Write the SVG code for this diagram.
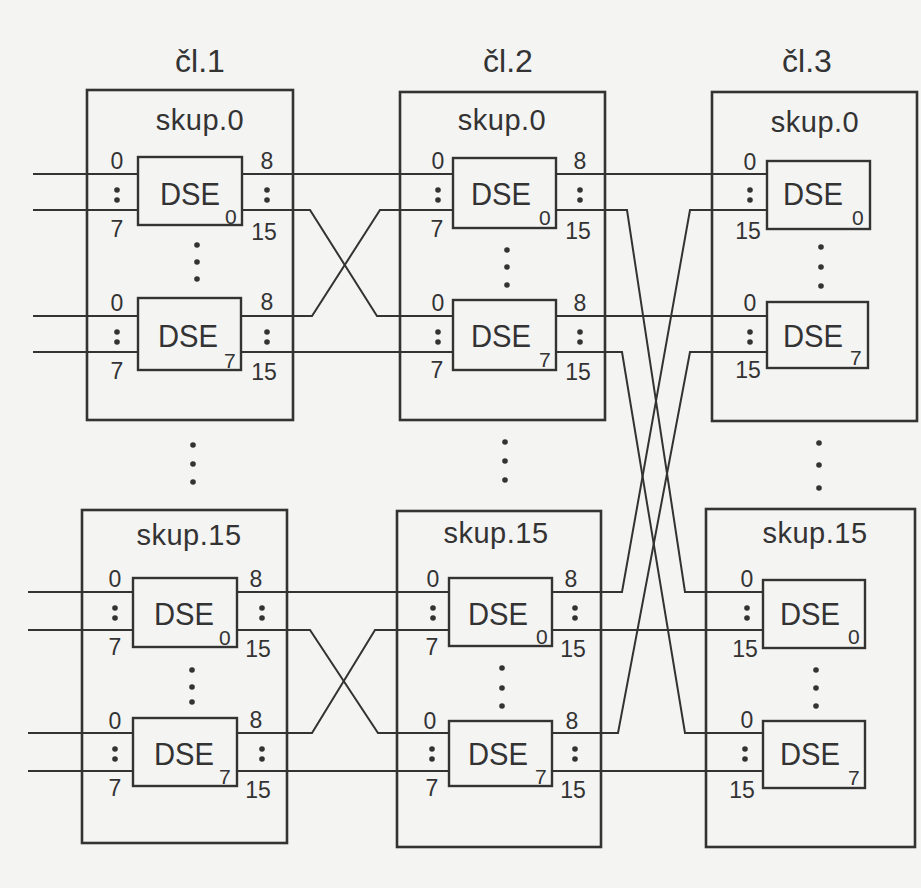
<svg xmlns="http://www.w3.org/2000/svg" width="921" height="888" viewBox="0 0 921 888">
<style>
.bg{fill:#f4f4f3}
.box{fill:none;stroke:#333;stroke-width:2.6}
.dse{fill:none;stroke:#333;stroke-width:2.4}
.ln{fill:none;stroke:#333;stroke-width:2;stroke-linejoin:miter}
text{font-family:"Liberation Sans","DejaVu Sans",sans-serif;fill:#333}
.hd{font-size:32px;text-anchor:middle}
.sk{font-size:29px;text-anchor:middle;letter-spacing:0.5px}
.ds{font-size:32px;text-anchor:middle}
.sub{font-size:21px}
.pt{font-size:23px;text-anchor:middle}
.dot{fill:#333}
</style>
<rect class="bg" x="0" y="0" width="921" height="888"/>
<text class="hd" x="200" y="72">čl.1</text>
<text class="hd" x="508" y="72">čl.2</text>
<text class="hd" x="807" y="72">čl.3</text>

<g id="connectors">
<path class="ln" d="M33 174H138M33 210H138M33 316H138M33 352H138"/>
<path class="ln" d="M28 592H133M28 630H133M28 733H133M28 771H133"/>
<path class="ln" d="M242 174H453"/>
<path class="ln" d="M242 210H310L377 316H453"/>
<path class="ln" d="M241 316H312L380 210H453"/>
<path class="ln" d="M241 352H453"/>
<path class="ln" d="M237 592H449"/>
<path class="ln" d="M237 630H310L378 733H449"/>
<path class="ln" d="M237 733H312L375 630H449"/>
<path class="ln" d="M237 771H449"/>
<path class="ln" d="M556 174H767"/>
<path class="ln" d="M556 210H627L685 592H763"/>
<path class="ln" d="M556 316H767"/>
<path class="ln" d="M556 352H622L685 733H763"/>
<path class="ln" d="M552 592H622L690 210H767"/>
<path class="ln" d="M552 630H763"/>
<path class="ln" d="M552 733H618L690 352H767"/>
<path class="ln" d="M552 771H763"/>
</g>

<g id="c1-skup0">
<rect class="box" x="87" y="90" width="206" height="330"/>
<text class="sk" x="200" y="130">skup.0</text>
<rect class="dse" x="138" y="157" width="104" height="68"/>
<text class="ds" x="190" y="205" textLength="60" lengthAdjust="spacingAndGlyphs">DSE</text><text class="sub" x="225" y="224">0</text>
<rect class="dse" x="138" y="298" width="103" height="72"/>
<text class="ds" x="188" y="347" textLength="60" lengthAdjust="spacingAndGlyphs">DSE</text><text class="sub" x="224" y="368">7</text>
<text class="pt" x="117" y="169">0</text><circle class="dot" cx="117" cy="190" r="2.8"/><circle class="dot" cx="117" cy="200" r="2.8"/><text class="pt" x="117" y="237">7</text>
<text class="pt" x="267" y="169">8</text><circle class="dot" cx="267" cy="190" r="2.8"/><circle class="dot" cx="267" cy="200" r="2.8"/><text class="pt" x="264" y="240">15</text>
<text class="pt" x="117" y="311">0</text><circle class="dot" cx="117" cy="332" r="2.8"/><circle class="dot" cx="117" cy="342" r="2.8"/><text class="pt" x="117" y="379">7</text>
<text class="pt" x="267" y="310">8</text><circle class="dot" cx="267" cy="332" r="2.8"/><circle class="dot" cx="267" cy="342" r="2.8"/><text class="pt" x="264" y="380">15</text>
<circle class="dot" cx="197" cy="245" r="2.8"/><circle class="dot" cx="197" cy="262" r="2.8"/><circle class="dot" cx="197" cy="279" r="2.8"/>
</g>

<g id="c2-skup0">
<rect class="box" x="400" y="92" width="205" height="328"/>
<text class="sk" x="502" y="130">skup.0</text>
<rect class="dse" x="453" y="158" width="103" height="70"/>
<text class="ds" x="501" y="205" textLength="60" lengthAdjust="spacingAndGlyphs">DSE</text><text class="sub" x="539" y="225">0</text>
<rect class="dse" x="453" y="300" width="103" height="70"/>
<text class="ds" x="501" y="347" textLength="60" lengthAdjust="spacingAndGlyphs">DSE</text><text class="sub" x="539" y="367">7</text>
<text class="pt" x="438" y="169">0</text><circle class="dot" cx="438" cy="190" r="2.8"/><circle class="dot" cx="438" cy="200" r="2.8"/><text class="pt" x="437" y="237">7</text>
<text class="pt" x="580" y="169">8</text><circle class="dot" cx="580" cy="190" r="2.8"/><circle class="dot" cx="580" cy="200" r="2.8"/><text class="pt" x="578" y="239">15</text>
<text class="pt" x="438" y="311">0</text><circle class="dot" cx="438" cy="332" r="2.8"/><circle class="dot" cx="438" cy="342" r="2.8"/><text class="pt" x="437" y="378">7</text>
<text class="pt" x="580" y="311">8</text><circle class="dot" cx="580" cy="332" r="2.8"/><circle class="dot" cx="580" cy="342" r="2.8"/><text class="pt" x="578" y="380">15</text>
<circle class="dot" cx="507" cy="250" r="2.8"/><circle class="dot" cx="507" cy="267" r="2.8"/><circle class="dot" cx="507" cy="285" r="2.8"/>
</g>

<g id="c3-skup0">
<rect class="box" x="712" y="92" width="205" height="329"/>
<text class="sk" x="815" y="132">skup.0</text>
<rect class="dse" x="767" y="161" width="103" height="68"/>
<text class="ds" x="813" y="205" textLength="60" lengthAdjust="spacingAndGlyphs">DSE</text><text class="sub" x="852" y="225">0</text>
<rect class="dse" x="767" y="302" width="101" height="66"/>
<text class="ds" x="813" y="347" textLength="60" lengthAdjust="spacingAndGlyphs">DSE</text><text class="sub" x="850" y="365">7</text>
<text class="pt" x="750" y="170">0</text><circle class="dot" cx="750" cy="190" r="2.8"/><circle class="dot" cx="750" cy="200" r="2.8"/><text class="pt" x="748" y="239">15</text>
<text class="pt" x="750" y="311">0</text><circle class="dot" cx="750" cy="332" r="2.8"/><circle class="dot" cx="750" cy="342" r="2.8"/><text class="pt" x="748" y="378">15</text>
<circle class="dot" cx="821" cy="247" r="2.8"/><circle class="dot" cx="821" cy="267" r="2.8"/><circle class="dot" cx="821" cy="286" r="2.8"/>
</g>

<g id="c1-gap"><circle class="dot" cx="193" cy="445" r="2.8"/><circle class="dot" cx="193" cy="464" r="2.8"/><circle class="dot" cx="193" cy="482" r="2.8"/></g>
<g id="c2-gap"><circle class="dot" cx="505" cy="442" r="2.8"/><circle class="dot" cx="505" cy="461" r="2.8"/><circle class="dot" cx="505" cy="480" r="2.8"/></g>
<g id="c3-gap"><circle class="dot" cx="819" cy="443" r="2.8"/><circle class="dot" cx="819" cy="465" r="2.8"/><circle class="dot" cx="819" cy="488" r="2.8"/></g>

<g id="c1-skup15">
<rect class="box" x="82" y="510" width="205" height="333"/>
<text class="sk" x="189" y="545">skup.15</text>
<rect class="dse" x="133" y="578" width="104" height="69"/>
<text class="ds" x="184" y="625" textLength="60" lengthAdjust="spacingAndGlyphs">DSE</text><text class="sub" x="219" y="645">0</text>
<rect class="dse" x="133" y="718" width="104" height="68"/>
<text class="ds" x="184" y="765" textLength="60" lengthAdjust="spacingAndGlyphs">DSE</text><text class="sub" x="219" y="784">7</text>
<text class="pt" x="115" y="587">0</text><circle class="dot" cx="115" cy="608" r="2.8"/><circle class="dot" cx="115" cy="618" r="2.8"/><text class="pt" x="115" y="655">7</text>
<text class="pt" x="256" y="587">8</text><circle class="dot" cx="262" cy="608" r="2.8"/><circle class="dot" cx="262" cy="618" r="2.8"/><text class="pt" x="258" y="657">15</text>
<text class="pt" x="115" y="729">0</text><circle class="dot" cx="115" cy="749" r="2.8"/><circle class="dot" cx="115" cy="759" r="2.8"/><text class="pt" x="115" y="796">7</text>
<text class="pt" x="256" y="728">8</text><circle class="dot" cx="262" cy="749" r="2.8"/><circle class="dot" cx="262" cy="759" r="2.8"/><text class="pt" x="258" y="798">15</text>
<circle class="dot" cx="192" cy="670" r="2.8"/><circle class="dot" cx="192" cy="687" r="2.8"/><circle class="dot" cx="192" cy="702" r="2.8"/>
</g>

<g id="c2-skup15">
<rect class="box" x="397" y="511" width="204" height="336"/>
<text class="sk" x="496" y="543">skup.15</text>
<rect class="dse" x="449" y="578" width="103" height="68"/>
<text class="ds" x="498" y="625" textLength="60" lengthAdjust="spacingAndGlyphs">DSE</text><text class="sub" x="536" y="644">0</text>
<rect class="dse" x="449" y="721" width="103" height="65"/>
<text class="ds" x="498" y="765" textLength="60" lengthAdjust="spacingAndGlyphs">DSE</text><text class="sub" x="535" y="784">7</text>
<text class="pt" x="433" y="587">0</text><circle class="dot" cx="433" cy="608" r="2.8"/><circle class="dot" cx="433" cy="618" r="2.8"/><text class="pt" x="432" y="655">7</text>
<text class="pt" x="571" y="587">8</text><circle class="dot" cx="575" cy="608" r="2.8"/><circle class="dot" cx="575" cy="618" r="2.8"/><text class="pt" x="573" y="657">15</text>
<text class="pt" x="430" y="729">0</text><circle class="dot" cx="432" cy="749" r="2.8"/><circle class="dot" cx="432" cy="759" r="2.8"/><text class="pt" x="432" y="796">7</text>
<text class="pt" x="572" y="729">8</text><circle class="dot" cx="575" cy="749" r="2.8"/><circle class="dot" cx="575" cy="759" r="2.8"/><text class="pt" x="573" y="798">15</text>
<circle class="dot" cx="502" cy="668" r="2.8"/><circle class="dot" cx="502" cy="688" r="2.8"/><circle class="dot" cx="502" cy="706" r="2.8"/>
</g>

<g id="c3-skup15">
<rect class="box" x="706" y="509" width="209" height="338"/>
<text class="sk" x="815" y="543">skup.15</text>
<rect class="dse" x="763" y="580" width="102" height="68"/>
<text class="ds" x="810" y="625" textLength="60" lengthAdjust="spacingAndGlyphs">DSE</text><text class="sub" x="848" y="644">0</text>
<rect class="dse" x="763" y="721" width="102" height="67"/>
<text class="ds" x="810" y="765" textLength="60" lengthAdjust="spacingAndGlyphs">DSE</text><text class="sub" x="848" y="785">7</text>
<text class="pt" x="747" y="587">0</text><circle class="dot" cx="747" cy="608" r="2.8"/><circle class="dot" cx="747" cy="618" r="2.8"/><text class="pt" x="745" y="657">15</text>
<text class="pt" x="747" y="728">0</text><circle class="dot" cx="745" cy="749" r="2.8"/><circle class="dot" cx="745" cy="759" r="2.8"/><text class="pt" x="742" y="798">15</text>
<circle class="dot" cx="816" cy="670" r="2.8"/><circle class="dot" cx="816" cy="688" r="2.8"/><circle class="dot" cx="816" cy="706" r="2.8"/>
</g>
</svg>
